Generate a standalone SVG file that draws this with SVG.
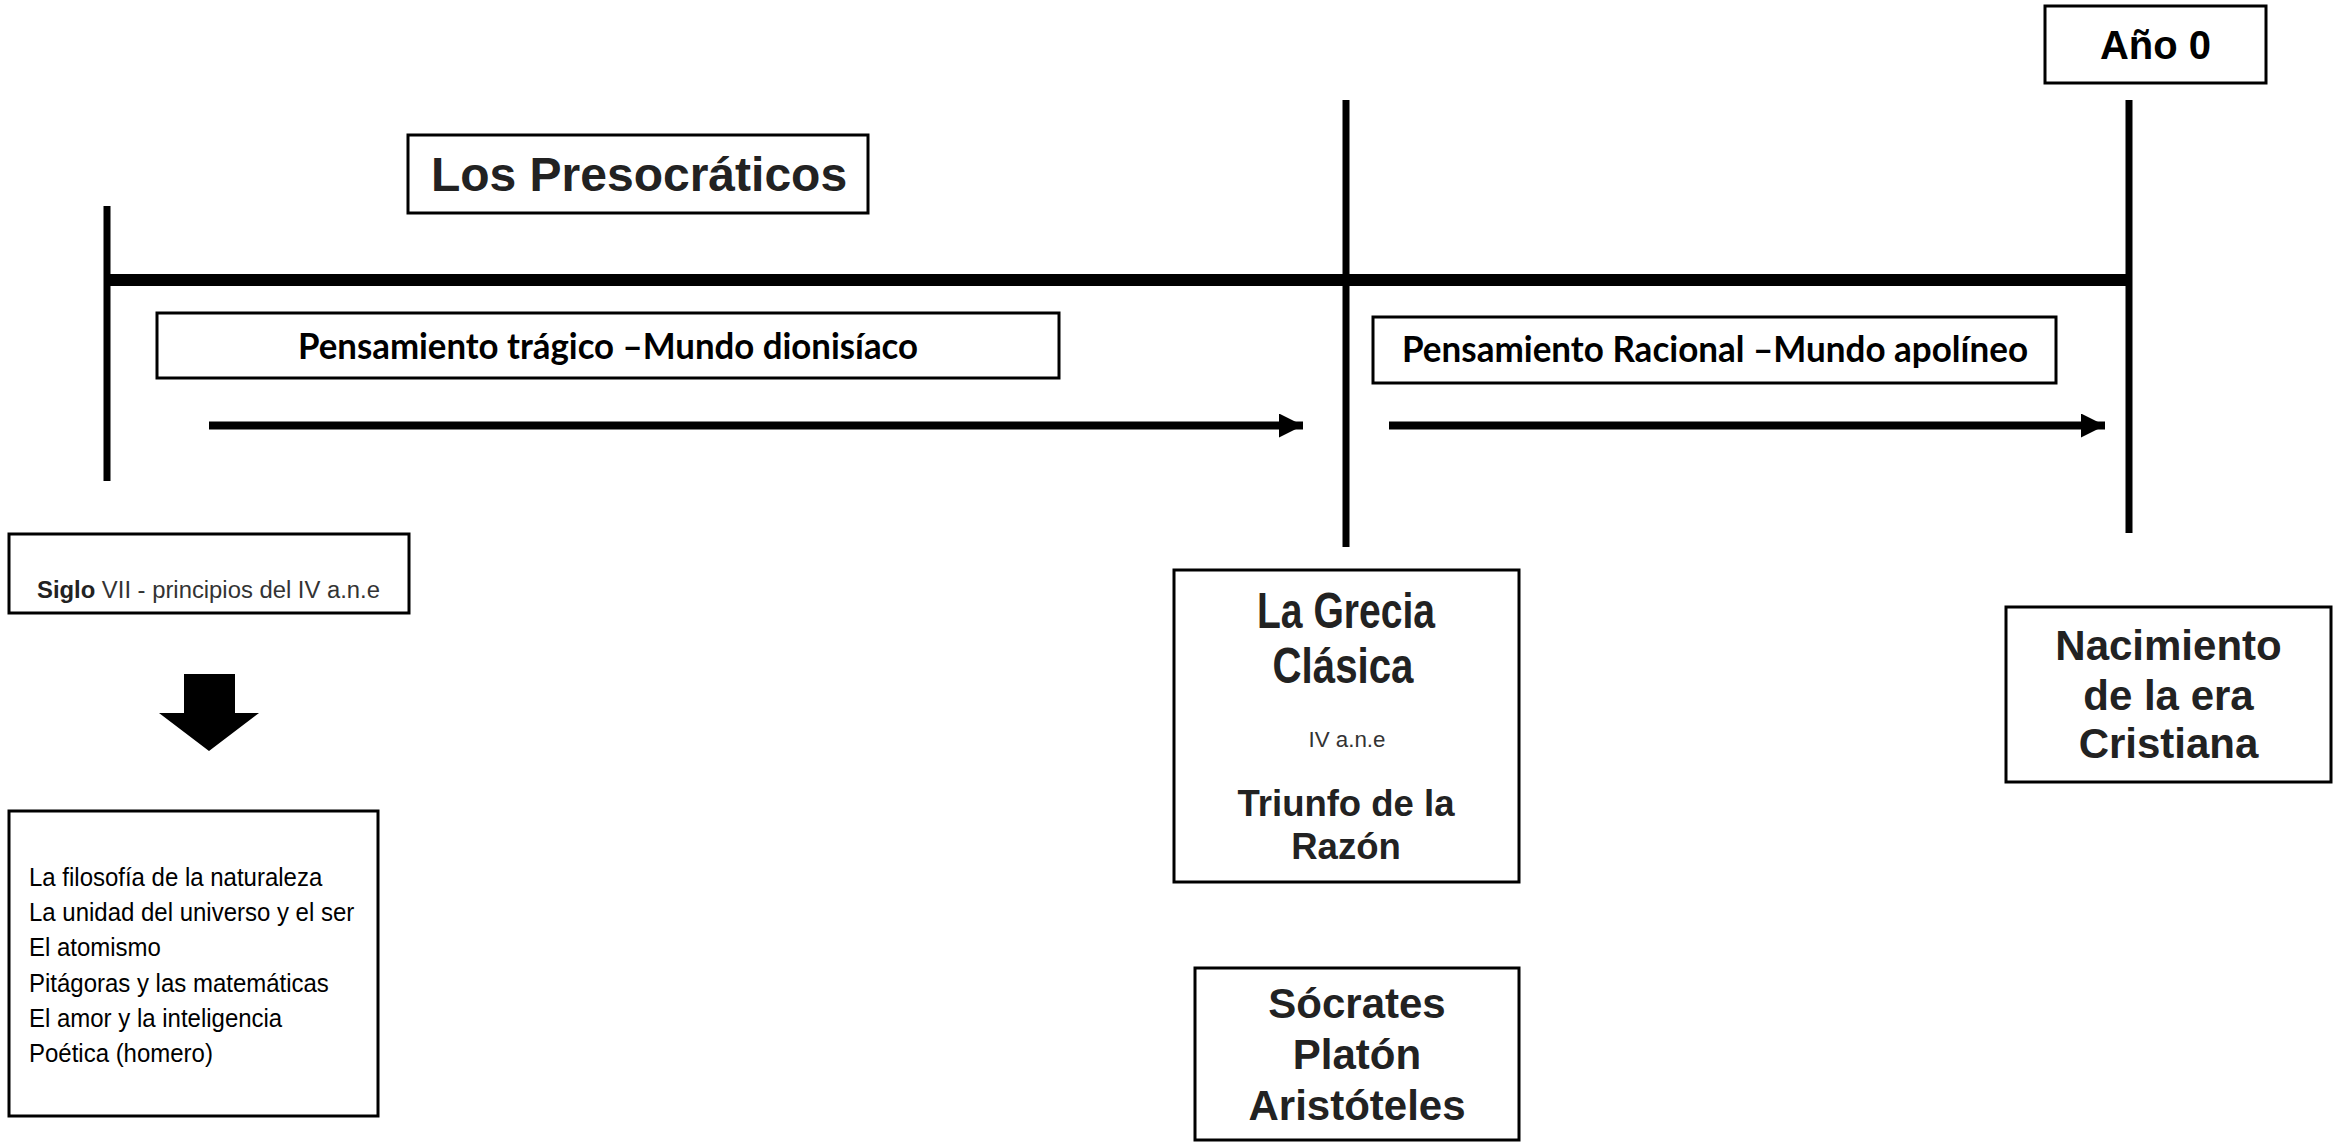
<svg xmlns="http://www.w3.org/2000/svg" width="2341" height="1142" viewBox="0 0 2341 1142">
  <style>
    .box { fill: #ffffff; stroke: #000000; stroke-width: 3; }
    .ar { font-family: "Liberation Sans", Arial, sans-serif; }
    .b { font-weight: bold; fill: #222222; }
    .cal { font-family: Lato, "Liberation Sans", sans-serif; font-weight: bold; fill: #000000; font-size: 36px; }
    .narrow { font-family: "Liberation Sans Narrow", "Liberation Sans", Arial, sans-serif; font-weight: bold; fill: #222222; font-size: 50px; }
    .mid { text-anchor: middle; }
    .line { stroke: #000000; fill: none; }
  </style>
  <defs>
    <marker id="head" markerUnits="userSpaceOnUse" markerWidth="24" markerHeight="24" refX="24" refY="12" orient="auto">
      <path d="M0,0 L24,12 L0,24 Z" fill="#000000"/>
    </marker>
  </defs>
  <rect width="2341" height="1142" fill="#ffffff"/>

  <g id="connectors">
    <line id="timeline" class="line" x1="104" y1="280" x2="2132" y2="280" stroke-width="12"/>
    <line id="tick-left" class="line" x1="107" y1="206" x2="107" y2="481" stroke-width="7"/>
    <line id="tick-mid" class="line" x1="1346" y1="100" x2="1346" y2="547" stroke-width="7"/>
    <line id="tick-right" class="line" x1="2129" y1="100" x2="2129" y2="533" stroke-width="7"/>
    <line id="arrow-tragico" class="line" x1="209" y1="425.5" x2="1303" y2="425.5" stroke-width="8" marker-end="url(#head)"/>
    <line id="arrow-racional" class="line" x1="1389" y1="425.5" x2="2105" y2="425.5" stroke-width="8" marker-end="url(#head)"/>
    <path id="arrow-down" d="M184,674 L235,674 L235,713 L259,713 L209,751 L159,713 L184,713 Z" fill="#000000"/>
  </g>

  <g id="node-ano0">
    <rect class="box" x="2045" y="6" width="221" height="77"/>
    <text class="ar mid" x="2155.5" y="59" font-size="40" font-weight="bold" fill="#000000">Año 0</text>
  </g>

  <g id="node-presocraticos">
    <rect class="box" x="408" y="135" width="460" height="78"/>
    <text class="ar b mid" x="639" y="191" font-size="48">Los Presocráticos</text>
  </g>

  <g id="node-tragico">
    <rect class="box" x="157" y="313" width="902" height="65"/>
    <text class="cal" x="298" y="359" textLength="620" lengthAdjust="spacingAndGlyphs">Pensamiento trágico –Mundo dionisíaco</text>
  </g>

  <g id="node-racional">
    <rect class="box" x="1373" y="317" width="683" height="66"/>
    <text class="cal" x="1402" y="362" textLength="626" lengthAdjust="spacingAndGlyphs">Pensamiento Racional –Mundo apolíneo</text>
  </g>

  <g id="node-siglo">
    <rect class="box" x="9" y="534" width="400" height="79"/>
    <text class="ar" x="37" y="598" font-size="23.5" fill="#333333" textLength="343" lengthAdjust="spacingAndGlyphs"><tspan font-weight="bold" fill="#222222">Siglo</tspan> VII - principios del IV a.n.e</text>
  </g>

  <g id="node-temas">
    <rect class="box" x="9" y="811" width="369" height="305"/>
    <text class="ar" font-size="26.5" fill="#000000" transform="translate(29 0) scale(0.905 1)">
      <tspan x="0" y="886">La filosofía de la naturaleza</tspan>
      <tspan x="0" y="921">La unidad del universo y el ser</tspan>
      <tspan x="0" y="956">El atomismo</tspan>
      <tspan x="0" y="992">Pitágoras y las matemáticas</tspan>
      <tspan x="0" y="1027">El amor y la inteligencia</tspan>
      <tspan x="0" y="1062">Poética (homero)</tspan>
    </text>
  </g>

  <g id="node-grecia">
    <rect class="box" x="1174" y="570" width="345" height="312"/>
    <text class="narrow mid" x="1346" y="628" textLength="178" lengthAdjust="spacingAndGlyphs">La Grecia</text>
    <text class="narrow mid" x="1343" y="683" textLength="141" lengthAdjust="spacingAndGlyphs">Clásica</text>
    <text class="ar mid" x="1347" y="747" font-size="22" fill="#333333" textLength="77" lengthAdjust="spacingAndGlyphs">IV a.n.e</text>
    <text class="ar b mid" x="1346" y="816" font-size="36.5">Triunfo de la</text>
    <text class="ar b mid" x="1346" y="859" font-size="36.5">Razón</text>
  </g>

  <g id="node-filosofos">
    <rect class="box" x="1195" y="968" width="324" height="172"/>
    <text class="ar b mid" x="1357" y="1018" font-size="42">Sócrates</text>
    <text class="ar b mid" x="1357" y="1069" font-size="42">Platón</text>
    <text class="ar b mid" x="1357" y="1120" font-size="42">Aristóteles</text>
  </g>

  <g id="node-nacimiento">
    <rect class="box" x="2006" y="607" width="325" height="175"/>
    <text class="ar b mid" x="2168.5" y="660" font-size="42">Nacimiento</text>
    <text class="ar b mid" x="2168.5" y="710" font-size="42">de la era</text>
    <text class="ar b mid" x="2168.5" y="758" font-size="42">Cristiana</text>
  </g>
</svg>
